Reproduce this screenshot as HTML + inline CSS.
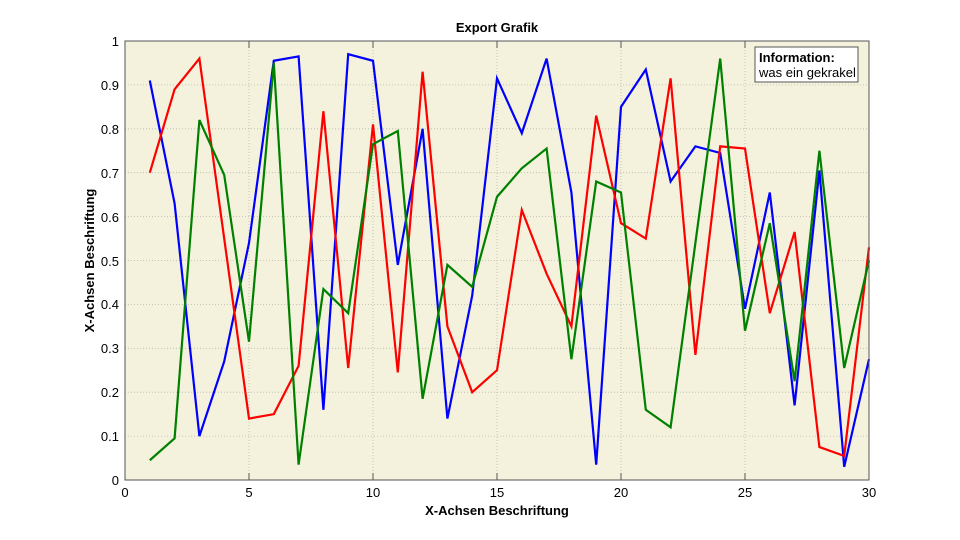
<!DOCTYPE html>
<html><head><meta charset="utf-8"><style>body{margin:0;background:#fff}svg{display:block}text{font-family:"Liberation Sans",sans-serif}</style></head>
<body>
<svg width="960" height="540" viewBox="0 0 960 540" xmlns="http://www.w3.org/2000/svg">
<rect width="960" height="540" fill="#fff"/>
<rect x="125" y="41" width="744" height="439" fill="#f4f2dc"/>
<g stroke="#b8b8b0" stroke-width="0.8" stroke-dasharray="1,2">
<line x1="249" y1="41" x2="249" y2="480"/><line x1="373" y1="41" x2="373" y2="480"/><line x1="497" y1="41" x2="497" y2="480"/><line x1="621" y1="41" x2="621" y2="480"/><line x1="745" y1="41" x2="745" y2="480"/>
<line x1="125" y1="436.1" x2="869" y2="436.1"/><line x1="125" y1="392.2" x2="869" y2="392.2"/><line x1="125" y1="348.3" x2="869" y2="348.3"/><line x1="125" y1="304.4" x2="869" y2="304.4"/><line x1="125" y1="260.5" x2="869" y2="260.5"/><line x1="125" y1="216.6" x2="869" y2="216.6"/><line x1="125" y1="172.7" x2="869" y2="172.7"/><line x1="125" y1="128.8" x2="869" y2="128.8"/><line x1="125" y1="84.9" x2="869" y2="84.9"/>
</g>
<g transform="translate(125,480) scale(24.8,-439)" fill="none" stroke-width="2.2" stroke-linejoin="miter">
<polyline vector-effect="non-scaling-stroke" stroke="#0000ff" points="1,0.91 2,0.63 3,0.10 4,0.27 5,0.54 6,0.955 7,0.965 8,0.16 9,0.97 10,0.955 11,0.49 12,0.80 13,0.14 14,0.42 15,0.915 16,0.79 17,0.96 18,0.655 19,0.035 20,0.85 21,0.935 22,0.68 23,0.76 24,0.745 25,0.39 26,0.655 27,0.17 28,0.705 29,0.03 30,0.275"/>
<polyline vector-effect="non-scaling-stroke" stroke="#ff0000" points="1,0.70 2,0.89 3,0.96 4,0.55 5,0.14 6,0.15 7,0.26 8,0.84 9,0.255 10,0.81 11,0.245 12,0.93 13,0.35 14,0.20 15,0.25 16,0.615 17,0.47 18,0.35 19,0.83 20,0.585 21,0.55 22,0.915 23,0.285 24,0.76 25,0.755 26,0.38 27,0.565 28,0.075 29,0.055 30,0.53"/>
<polyline vector-effect="non-scaling-stroke" stroke="#008000" points="1,0.045 2,0.095 3,0.82 4,0.695 5,0.315 6,0.95 7,0.035 8,0.435 9,0.38 10,0.765 11,0.795 12,0.185 13,0.49 14,0.44 15,0.645 16,0.71 17,0.755 18,0.275 19,0.68 20,0.655 21,0.16 22,0.12 23,0.54 24,0.96 25,0.34 26,0.585 27,0.225 28,0.75 29,0.255 30,0.50"/>
</g>
<rect x="125" y="41" width="744" height="439" fill="none" stroke="#555" stroke-width="1"/>
<g stroke="#555" stroke-width="1">
<line x1="249" y1="480" x2="249" y2="473"/><line x1="373" y1="480" x2="373" y2="473"/><line x1="497" y1="480" x2="497" y2="473"/><line x1="621" y1="480" x2="621" y2="473"/><line x1="745" y1="480" x2="745" y2="473"/>
<line x1="249" y1="41" x2="249" y2="48"/><line x1="373" y1="41" x2="373" y2="48"/><line x1="497" y1="41" x2="497" y2="48"/><line x1="621" y1="41" x2="621" y2="48"/><line x1="745" y1="41" x2="745" y2="48"/>
</g>
<g font-size="13" fill="#000" text-anchor="end">
<text x="119" y="485">0</text><text x="119" y="441">0.1</text><text x="119" y="397">0.2</text><text x="119" y="353">0.3</text><text x="119" y="309">0.4</text><text x="119" y="266">0.5</text><text x="119" y="222">0.6</text><text x="119" y="178">0.7</text><text x="119" y="134">0.8</text><text x="119" y="90">0.9</text><text x="119" y="46">1</text>
</g>
<g font-size="13" fill="#000" text-anchor="middle">
<text x="125" y="497">0</text><text x="249" y="497">5</text><text x="373" y="497">10</text><text x="497" y="497">15</text><text x="621" y="497">20</text><text x="745" y="497">25</text><text x="869" y="497">30</text>
</g>
<text x="497" y="515" font-size="13" font-weight="bold" text-anchor="middle">X-Achsen Beschriftung</text>
<text x="497" y="32" font-size="13" font-weight="bold" text-anchor="middle">Export Grafik</text>
<text transform="translate(94,260.5) rotate(-90)" font-size="13" font-weight="bold" text-anchor="middle">X-Achsen Beschriftung</text>
<rect x="755" y="47" width="103" height="35" fill="#fff" stroke="#555" stroke-width="1"/>
<text x="759" y="62" font-size="13" font-weight="bold">Information:</text>
<text x="759" y="77" font-size="13">was ein gekrakel</text>
</svg>
</body></html>
